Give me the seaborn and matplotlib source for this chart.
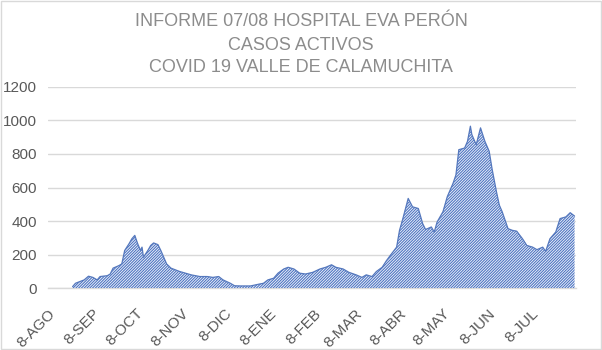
import matplotlib
matplotlib.use("Agg")
import matplotlib.pyplot as plt
import seaborn as sns
import pandas as pd
from matplotlib.patches import Rectangle

title_lines = ["INFORME 07/08 HOSPITAL EVA PERÓN", "CASOS ACTIVOS", "COVID 19 VALLE DE CALAMUCHITA"]

dates = [
    "2020-08-25", "2020-08-27", "2020-08-30", "2020-09-02", "2020-09-05", "2020-09-08",
    "2020-09-11", "2020-09-13", "2020-09-18", "2020-09-20", "2020-09-22", "2020-09-26",
    "2020-09-28", "2020-09-30", "2020-10-03", "2020-10-05", "2020-10-07", "2020-10-09",
    "2020-10-11", "2020-10-12", "2020-10-13", "2020-10-16", "2020-10-18", "2020-10-20",
    "2020-10-23", "2020-10-25", "2020-10-27", "2020-10-29", "2020-11-01", "2020-11-04",
    "2020-11-07", "2020-11-11", "2020-11-15", "2020-11-21", "2020-11-26", "2020-11-30",
    "2020-12-04", "2020-12-07", "2020-12-12", "2020-12-15", "2020-12-19", "2020-12-26",
    "2021-01-01", "2021-01-04", "2021-01-07", "2021-01-11", "2021-01-14", "2021-01-18",
    "2021-01-21", "2021-01-25", "2021-01-29", "2021-02-02", "2021-02-07", "2021-02-12",
    "2021-02-16", "2021-02-20", "2021-02-23", "2021-02-28", "2021-03-04", "2021-03-09",
    "2021-03-13", "2021-03-16", "2021-03-20", "2021-03-23", "2021-03-27", "2021-03-30",
    "2021-04-02", "2021-04-06", "2021-04-08", "2021-04-10", "2021-04-14", "2021-04-17",
    "2021-04-21", "2021-04-24", "2021-04-26", "2021-04-30", "2021-05-02", "2021-05-04",
    "2021-05-08", "2021-05-11", "2021-05-15", "2021-05-17", "2021-05-19", "2021-05-23",
    "2021-05-25", "2021-05-27", "2021-05-28", "2021-05-31", "2021-06-03", "2021-06-06",
    "2021-06-09", "2021-06-11", "2021-06-14", "2021-06-16", "2021-06-18", "2021-06-22",
    "2021-06-25", "2021-06-28", "2021-07-02", "2021-07-05", "2021-07-09", "2021-07-12",
    "2021-07-16", "2021-07-18", "2021-07-21", "2021-07-25", "2021-07-28", "2021-08-01",
    "2021-08-04", "2021-08-07",
]
casos = [
    10, 30, 40, 50, 72, 65,
    50, 70, 75, 85, 120, 135,
    145, 225, 265, 295, 315, 265,
    225, 245, 185, 225, 255, 270,
    260, 225, 185, 145, 120, 110,
    100, 90, 80, 70, 70, 65,
    70, 50, 30, 15, 14, 14,
    25, 30, 50, 60, 90, 115,
    125, 115, 90, 85, 95, 115,
    125, 140, 125, 115, 95, 80,
    65, 80, 70, 100, 125, 165,
    200, 245, 345, 405, 535, 485,
    475, 385, 350, 365, 335, 395,
    455, 545, 625, 675, 825, 835,
    875, 965, 915, 855, 955, 875,
    815, 710, 575, 495, 455, 355,
    345, 340, 295, 255, 245, 230,
    245, 220, 295, 335, 415, 425,
    450, 430,
]

tick_dates = ["2020-08-08", "2020-09-08", "2020-10-08", "2020-11-08", "2020-12-08", "2021-01-08",
              "2021-02-08", "2021-03-08", "2021-04-08", "2021-05-08", "2021-06-08", "2021-07-08"]
tick_labels = ["8-AGO", "8-SEP", "8-OCT", "8-NOV", "8-DIC", "8-ENE",
               "8-FEB", "8-MAR", "8-ABR", "8-MAY", "8-JUN", "8-JUL"]
y_ticks = [0, 200, 400, 600, 800, 1000, 1200]

df = pd.DataFrame({"fecha": pd.to_datetime(dates), "casos": casos})

sns.set_theme(style="white")
plt.rcParams["font.family"] = ["Liberation Sans", "DejaVu Sans"]
plt.rcParams["hatch.linewidth"] = 0.75

fig = plt.figure(figsize=(6.02, 3.50), dpi=100)
ax = fig.add_axes([48 / 602, 1 - 288.3 / 350, (576 - 48) / 602, (288.3 - 86.7) / 350])

ax.fill_between(df["fecha"], 0, df["casos"], facecolor="#eef2fa", edgecolor="#4a72c0",
                hatch="/" * 12, linewidth=0, zorder=2)
sns.lineplot(data=df, x="fecha", y="casos", ax=ax, color="#5578bd", linewidth=0.9, zorder=3)

ax.set_xlim(pd.Timestamp("2020-08-08"), pd.Timestamp("2021-08-08"))
ax.set_ylim(0, 1200)
ax.set_yticks(y_ticks)
ax.set_yticklabels([str(v) for v in y_ticks])
ax.set_xticks(pd.to_datetime(tick_dates))
ax.set_xticklabels(tick_labels, rotation=45, ha="right", rotation_mode="anchor")
ax.set_xlabel("")
ax.set_ylabel("")

ax.grid(axis="y", color="#d9d9d9", linewidth=1.0, zorder=0)
ax.grid(axis="x", visible=False)
for s in ["top", "right", "left"]:
    ax.spines[s].set_visible(False)
ax.spines["bottom"].set_color("#d9d9d9")
ax.spines["bottom"].set_linewidth(1.0)
ax.spines["bottom"].set_zorder(1)
ax.tick_params(axis="y", length=0, pad=8, labelsize=11, labelcolor="#595959")
ax.tick_params(axis="x", length=0, pad=13, labelsize=11, labelcolor="#595959")

title_y = [1 - 22 / 350, 1 - 45 / 350, 1 - 68 / 350]
for t, yy in zip(title_lines, title_y):
    fig.text(0.5, yy, t, ha="center", va="center", fontsize=13, color="#8c8c8c")

fig.patches.append(Rectangle((0.001, 0.002), 0.997, 0.995, transform=fig.transFigure,
                             fill=False, edgecolor="#d9d9d9", linewidth=1.0))

fig.savefig("out.png", dpi=100)
